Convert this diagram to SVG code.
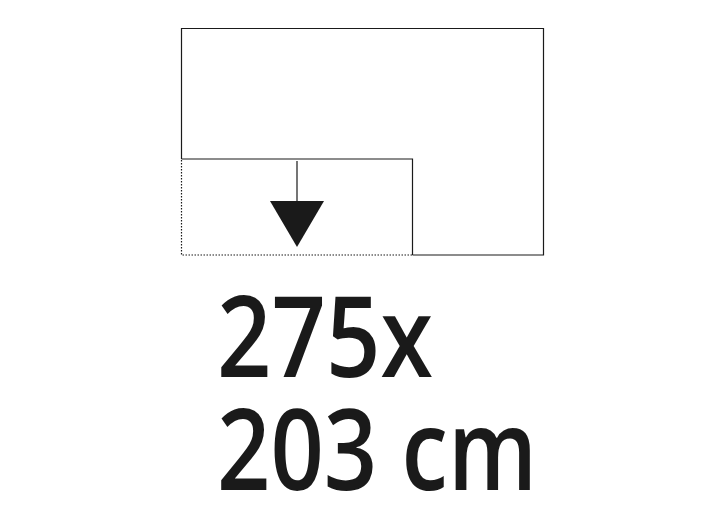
<svg xmlns="http://www.w3.org/2000/svg" width="719" height="520" viewBox="0 0 719 520">
<style>
.ln{fill:none;stroke:#1a1a1a;stroke-width:1.2}
.dot{fill:none;stroke:#1a1a1a;stroke-width:1.2;stroke-dasharray:1.5 1.5}
.t{font-family:"Open Sans","DejaVu Sans",sans-serif;font-size:112px;font-weight:600;fill:#1a1a1a}
</style>
<rect width="719" height="520" fill="#fff"/>
<g id="outer">
<polyline class="ln" points="181.5,159 181.5,28.5 543.5,28.5 543.5,255 412.5,255"/>
</g>
<g id="inner">
<polyline class="ln" points="181.5,159 412.5,159 412.5,255"/>
<polyline class="dot" points="181.5,160 181.5,255 412,255"/>
</g>
<g id="connectors">
<line class="ln" x1="297" y1="161" x2="297" y2="202" stroke-width="1.5"/>
<polygon points="270,201 324,201 297,247" fill="#1a1a1a"/>
</g>
<g id="label">
<text class="t" x="217" y="377" textLength="216" lengthAdjust="spacingAndGlyphs">275x</text>
<text class="t" x="217" y="490" textLength="320" lengthAdjust="spacingAndGlyphs">203 cm</text>
</g>
</svg>
